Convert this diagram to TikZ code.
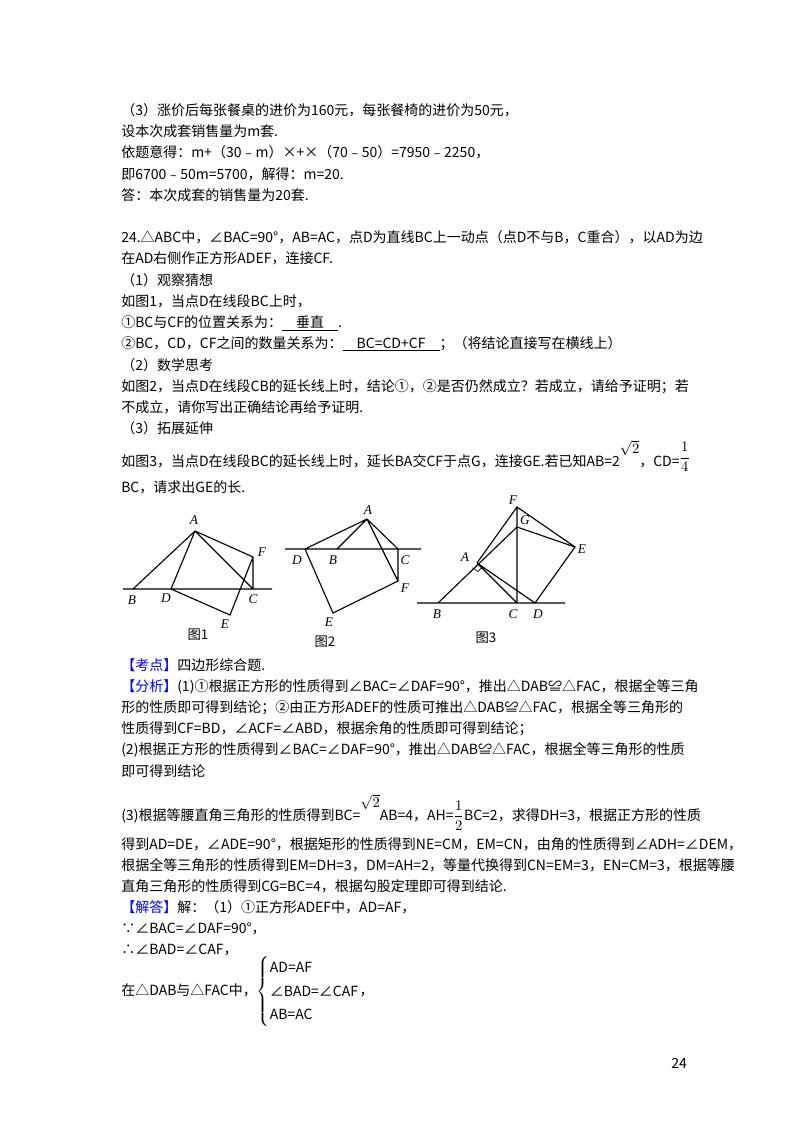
\documentclass[tikz,border=0pt]{standalone}
\usepackage{amsmath}
\usepackage{fontspec}
\setmainfont{Noto Sans CJK SC}
\newfontfamily\lab{Liberation Serif}
\usetikzlibrary{calc}
\begin{document}
\begin{tikzpicture}[x=0.75pt,y=-0.75pt,
  tx/.style={anchor=base west,inner sep=0,font=\fontsize{10.5pt}{12pt}\selectfont},
  lb/.style={font=\lab\itshape\fontsize{10pt}{11pt}\selectfont,inner sep=0},
  figcap/.style={font=\fontsize{10pt}{11pt}\selectfont,inner sep=0},
  ln/.style={line width=0.85pt}]
\useasboundingbox (0,0) rectangle (800,1132);
\fill[white] (0,0) rectangle (800,1132);
\def\L#1#2{\node[tx] at (121,#1) {#2};}
\L{115}{（3）涨价后每张餐桌的进价为160元，每张餐椅的进价为50元，}
\L{136}{设本次成套销售量为m套.}
\L{157}{依题意得：m+（30﹣m）×+×（70﹣50）=7950﹣2250，}
\L{179}{即6700﹣50m=5700，解得：m=20.}
\L{200}{答：本次成套的销售量为20套.}
\L{242}{24.△ABC中，∠BAC=90°，AB=AC，点D为直线BC上一动点（点D不与B，C重合），以AD为边}
\L{263}{在AD右侧作正方形ADEF，连接CF.}
\L{285}{（1）观察猜想}
\L{306}{如图1，当点D在线段BC上时，}
\L{327}{①BC与CF的位置关系为：\underline{\hspace{1em}垂直\hspace{1em}}.}
\L{348}{②BC，CD，CF之间的数量关系为：\underline{\hspace{1em}BC=CD+CF\hspace{1em}}；（将结论直接写在横线上）}
\L{370}{（2）数学思考}
\L{391}{如图2，当点D在线段CB的延长线上时，结论①，②是否仍然成立？若成立，请给予证明；若}
\L{412}{不成立，请你写出正确结论再给予证明.}
\L{433}{（3）拓展延伸}
\L{466}{如图3，当点D在线段BC的延长线上时，延长BA交CF于点G，连接GE.若已知AB=2\raisebox{1.6ex}{\smash{$\sqrt{2}$}}，CD=\raisebox{0.6ex}{\smash{$\dfrac{1}{4}$}}}
\L{492}{BC，请求出GE的长.}
\L{670}{\textcolor{blue}{【考点】}四边形综合题.}
\L{691}{\textcolor{blue}{【分析】}(1)①根据正方形的性质得到∠BAC=∠DAF=90°，推出△DAB≌△FAC，根据全等三角}
\L{712}{形的性质即可得到结论；②由正方形ADEF的性质可推出△DAB≌△FAC，根据全等三角形的}
\L{733}{性质得到CF=BD，∠ACF=∠ABD，根据余角的性质即可得到结论；}
\L{754}{(2)根据正方形的性质得到∠BAC=∠DAF=90°，推出△DAB≌△FAC，根据全等三角形的性质}
\L{776}{即可得到结论}
\L{820}{(3)根据等腰直角三角形的性质得到BC=\raisebox{1.6ex}{\smash{$\sqrt{2}$}}AB=4，AH=\smash{$\dfrac{1}{2}$}BC=2，求得DH=3，根据正方形的性质}
\L{849}{得到AD=DE，∠ADE=90°，根据矩形的性质得到NE=CM，EM=CN，由角的性质得到∠ADH=∠DEM，}
\L{870}{根据全等三角形的性质得到EM=DH=3，DM=AH=2，等量代换得到CN=EM=3，EN=CM=3，根据等腰}
\L{891}{直角三角形的性质得到CG=BC=4，根据勾股定理即可得到结论.}
\L{912}{\textcolor{blue}{【解答】}解：（1）①正方形ADEF中，AD=AF，}
\L{933}{∵∠BAC=∠DAF=90°，}
\L{954}{∴∠BAD=∠CAF，}
\L{995}{在△DAB与△FAC中，\renewcommand{\arraystretch}{1.45}$\left\{\begin{tabular}{@{}l@{}}AD=AF\\∠BAD=∠CAF\\AB=AC\end{tabular}\right.$，}
\node[tx] at (671,1068) {24};
% Figure 1
\coordinate (l1) at (123,589); \coordinate (r1) at (272,589);
\coordinate (A1) at (195,531); \coordinate (B1) at (133,589); \coordinate (D1) at (171,589);
\coordinate (C1) at (253,589); \coordinate (F1) at (253,557); \coordinate (E1) at (230,615);
\draw[ln] (l1)--(r1) (A1)--(B1) (A1)--(D1) (A1)--(C1) (A1)--(F1)--(C1) (D1)--(E1)--(F1);
\node[lb] at (194,520) {A}; \node[lb] at (132,600) {B}; \node[lb] at (166,598) {D};
\node[lb] at (253,599) {C}; \node[lb] at (262,552) {F}; \node[lb] at (225,624) {E};
\node[figcap] at (198,635) {图1};
% Figure 2
\coordinate (l2) at (285,549); \coordinate (r2) at (421,549);
\coordinate (A2) at (367,519); \coordinate (D2) at (305,549); \coordinate (B2) at (337,549);
\coordinate (C2) at (398,549); \coordinate (F2) at (398,581); \coordinate (E2) at (333,613);
\draw[ln] (l2)--(r2) (A2)--(D2) (A2)--(B2) (A2)--(C2) (A2)--(F2) (C2)--(F2) (D2)--(E2)--(F2);
\node[lb] at (368,510) {A}; \node[lb] at (297,560) {D}; \node[lb] at (333,560) {B};
\node[lb] at (405,560) {C}; \node[lb] at (405,588) {F}; \node[lb] at (329,622) {E};
\node[figcap] at (325,642) {图2};
% Figure 3
\coordinate (l3) at (417,603); \coordinate (r3) at (565,603);
\coordinate (B3) at (438,603); \coordinate (C3) at (517,603); \coordinate (D3) at (535,603);
\coordinate (A3) at (477,563); \coordinate (F3) at (517,507); \coordinate (G3) at (517,527);
\coordinate (E3) at (575,547);
\draw[ln] (l3)--(r3) (B3)--(G3) (A3)--(F3)--(E3)--(D3)--(A3) (A3)--(C3) (C3)--(F3) (G3)--(E3);
\coordinate (p1) at ($(A3)!5pt!(D3)$);
\coordinate (p3) at ($(A3)!5pt!(B3)$);
\draw[line width=0.5pt] (p1) -- ($(p1)+(p3)-(A3)$) -- (p3);
\node[lb] at (513,500) {F}; \node[lb] at (525,520) {G}; \node[lb] at (582,549) {E};
\node[lb] at (465,557) {A}; \node[lb] at (437,614) {B}; \node[lb] at (513,614) {C};
\node[lb] at (538,614) {D};
\node[figcap] at (486,638) {图3};
\end{tikzpicture}
\end{document}
